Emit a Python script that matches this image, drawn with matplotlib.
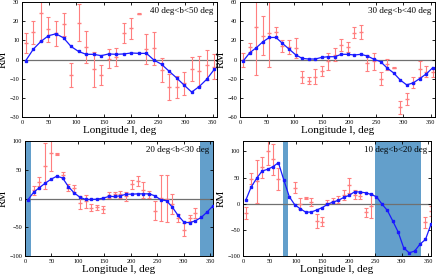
import matplotlib.pyplot as plt
import numpy as np

# Panel 1 : 40 deg<b<50 deg
l1 = [6.9, 20.8, 34.6, 48.5, 62.3, 76.2, 90.0, 103.8, 117.7, 131.5, 145.4, 159.2, 173.1,
      186.9, 200.8, 214.6, 228.5, 242.3, 256.2, 270.0, 283.8, 297.7, 311.5, 325.4, 339.2, 353.1]
fit1 = [-0.6, 5.4, 9.4, 12.4, 13.4, 11.3, 6.8, 4.2, 2.7, 2.7, 2.0, 2.9, 2.7,
        2.9, 3.4, 3.2, 3.2, -0.3, -2.5, -6.1, -9.6, -13.4, -17.0, -14.1, -10.3, -5.1]
rm1 = [8.4, 14.1, 24.5, 15.7, 13.8, 18.3, -8.0, 19.3, 6.6, -5.1, -8.0, 0.4, 1.3,
       13.9, 16.2, 24.0, 5.4, 5.8, -5.4, -14.4, -14.4, -12.4, -5.1, -6.0, -2.9, -3.7]
err1 = [5.2, 6.1, 15.0, 6.5, 6.5, 6.2, 6.4, 9.5, 8.5, 9.2, 5.2, 5.0, 4.9,
        5.2, 5.4, 0.5, 7.8, 8.5, 6.3, 6.7, 5.8, 6.0, 6.3, 8.0, 7.8, 6.4]

# Panel 2 : 30 deg<b<40 deg
l2 = [6, 18, 30, 42, 54, 66, 78, 90, 102, 114, 126, 138, 150, 162, 174,
      186, 198, 210, 222, 234, 246, 258, 270, 282, 294, 306, 318, 330, 342, 354]
fit2 = [-1.5, 7.1, 12.3, 18.5, 23.0, 23.0, 16.8, 10.9, 5.0, 1.2, 0.5, 0.5, 2.2, 2.9, 2.9,
        5.4, 5.4, 4.7, 5.4, 3.6, 0.2, -2.2, -8.8, -14.0, -21.3, -26.5, -24.4, -19.9, -15.0, -8.5]
rm2 = [-0.5, 13.0, 33.4, 25.0, 28.0, 28.2, 14.0, 13.3, 12.0, -18.0, -22.0, -18.0, -12.0, -2.0, 5.0,
       15.0, 13.3, 27.7, 28.5, -4.0, -2.0, -20.0, -5.0, -8.5, -50.0, -41.0, -24.0, -10.0, -12.6, -13.5]
err2 = [6.9, 4.7, 50.0, 20.0, 36.0, 5.2, 6.4, 7.4, 10.7, 6.0, 3.5, 7.6, 4.8, 8.7, 7.0,
        6.0, 5.2, 5.7, 7.5, 8.3, 9.0, 7.0, 6.0, 0.5, 6.9, 6.4, 6.1, 8.2, 5.9, 4.6]

# Panel 3 : 20 deg<b<30 deg
l3 = [5.5, 16.4, 27.3, 38.2, 49.1, 60.0, 70.9, 81.8, 92.7, 103.6, 114.5, 125.5, 136.4, 147.3,
      158.2, 169.1, 180.0, 190.9, 201.8, 212.7, 223.6, 234.5, 245.5, 256.4, 267.3, 278.2,
      289.1, 300.0, 310.9, 321.8, 332.7, 343.6, 354.5]
fit3 = [-2.3, 11.0, 19.0, 26.6, 33.5, 38.7, 35.8, 20.8, 9.8, 2.3, -1.7, -1.7, -1.2, 0.6,
        3.5, 3.5, 4.6, 7.5, 7.5, 8.1, 8.1, 8.1, 4.6, -2.3, -4.0, -15.0, -29.5, -41.0, -42.2,
        -38.7, -33.0, -23.7, -13.3]
rm3 = [np.nan, 14.5, 29.0, 57.0, 80.0, 77.5, 40.5, 19.0, 17.6, -7.0, -5.2, -16.0, -15.6, -19.0,
       6.0, 7.0, 7.2, 4.3, 25.0, 30.0, 15.0, 7.0, -21.0, 0.6, 0.0, -9.3, -33.8, -54.0, -34.0,
       -25.4, np.nan, np.nan, np.nan]
err3 = [0, 8.0, 8.0, 40.0, 33.0, 1.0, 5.0, 6.4, 6.6, 12.0, 11.6, 6.4, 4.6, 5.8,
        5.0, 5.0, 6.6, 7.8, 8.0, 8.7, 14.5, 5.8, 17.0, 40.5, 41.0, 17.3, 7.2, 11.3, 5.8,
        8.7, 0, 0, 0]
span3 = [(0, 10.6), (330, 360)]

# Panel 4 : 10 deg<b<20 deg
l4 = [5.1, 15.4, 25.7, 36.0, 46.3, 56.6, 66.9, 77.1, 87.4, 97.7, 108.0, 118.3, 128.6, 138.9,
      149.1, 159.4, 169.7, 180.0, 190.3, 200.6, 210.9, 221.1, 231.4, 241.7, 252.0, 262.3,
      272.6, 282.9, 293.1, 303.4, 313.7, 324.0, 334.3, 344.6, 354.9]
fit4 = [6.4, 32.0, 48.5, 62.6, 65.8, 70.9, 78.5, 45.3, 13.4, -1.9, -9.6, -16.0, -16.0, -12.1,
        -7.7, -1.3, 3.2, 6.4, 12.1, 16.0, 23.0, 22.3, 21.0, 17.9, 13.4, -0.6, -12.8, -33.2,
        -54.3, -84.3, -93.9, -90.7, -77.3, -68.3, -39.6]
rm4 = [-18.0, 48.0, 43.0, 70.0, 100.0, 85.0, 48.0, np.nan, np.nan, 31.0, 0.3, 11.0, 3.5, -33.0,
       -34.0, 2.0, 6.0, 8.0, 17.0, 35.0, 17.0, 15.0, -16.0, -5.0, np.nan, np.nan,
       np.nan, np.nan, np.nan, np.nan, np.nan, np.nan, np.nan, -35.0, -13.0]
err4 = [12.0, 11.0, 41.0, 20.0, 25.0, 30.0, 21.0, 0, 0, 10.0, 11.0, 1.0, 8.0, 13.0,
        9.0, 5.0, 5.5, 6.5, 10.0, 14.0, 8.6, 6.4, 8.6, 23.0, 0, 0,
        0, 0, 0, 0, 0, 0, 0, 10.5, 9.6]
span4 = [(74.7, 85.9), (250, 336)]

plt.rcParams['font.family'] = ['Liberation Serif', 'DejaVu Serif']

W, H = 436, 278
fig = plt.figure(figsize=(W / 100, H / 100), dpi=100)


def axes_px(left, top, right, bottom):
    return fig.add_axes([left / W, 1 - bottom / H, (right - left) / W, (bottom - top) / H])


panneaux = [
    (axes_px(22, 2, 217, 117), l1, fit1, rm1, err1, [], (-30, 30), 10, (0, 358), "40 deg<b<50 deg"),
    (axes_px(240, 2, 435, 117), l2, fit2, rm2, err2, [], (-60, 60), 20, (0, 358), "30 deg<b<40 deg"),
    (axes_px(25, 141, 213, 256), l3, fit3, rm3, err3, span3, (-100, 100), 50, (0, 355), "20 deg<b<30 deg"),
    (axes_px(243, 141, 431, 256), l4, fit4, rm4, err4, span4, (-100, 120), 50, (0, 355), "10 deg<b<20 deg"),
]

for ax, l, fit, rm, err, spans, ylim, pas, xlim, titre in panneaux:
    for a, b in spans:
        ax.axvspan(a, b, color="#639fcb", lw=0, zorder=0)
    ax.axhline(0, color="#707070", lw=0.9, zorder=1)
    ax.errorbar(l, rm, yerr=err, fmt="_", color="#ff7f7f", ecolor="#ff7f7f",
                elinewidth=0.8, capsize=1.5, capthick=0.8, markersize=3, zorder=2)
    ax.plot(l, fit, "-s", color="#1a1aff", lw=0.9, markersize=2.1, zorder=3)
    ax.set_xlim(*xlim)
    ax.set_ylim(*ylim)
    ax.set_xticks(np.arange(0, 351, 50))
    ax.set_yticks(np.arange(-100, 101, pas) if pas == 50 else np.arange(ylim[0], ylim[1] + 1, pas))
    ax.tick_params(direction="in", top=True, right=True, labelsize=4.5, length=2.5, width=0.6, pad=2)
    for s in ax.spines.values():
        s.set_linewidth(0.7)
    ax.set_xlabel("Longitude l, deg", fontsize=8, labelpad=1)
    ax.set_ylabel("RM", fontsize=8, labelpad=1)
    ax.text(0.98, 0.96, titre, transform=ax.transAxes, ha="right", va="top", fontsize=6.5)

fig.savefig("out.png", dpi=100)
